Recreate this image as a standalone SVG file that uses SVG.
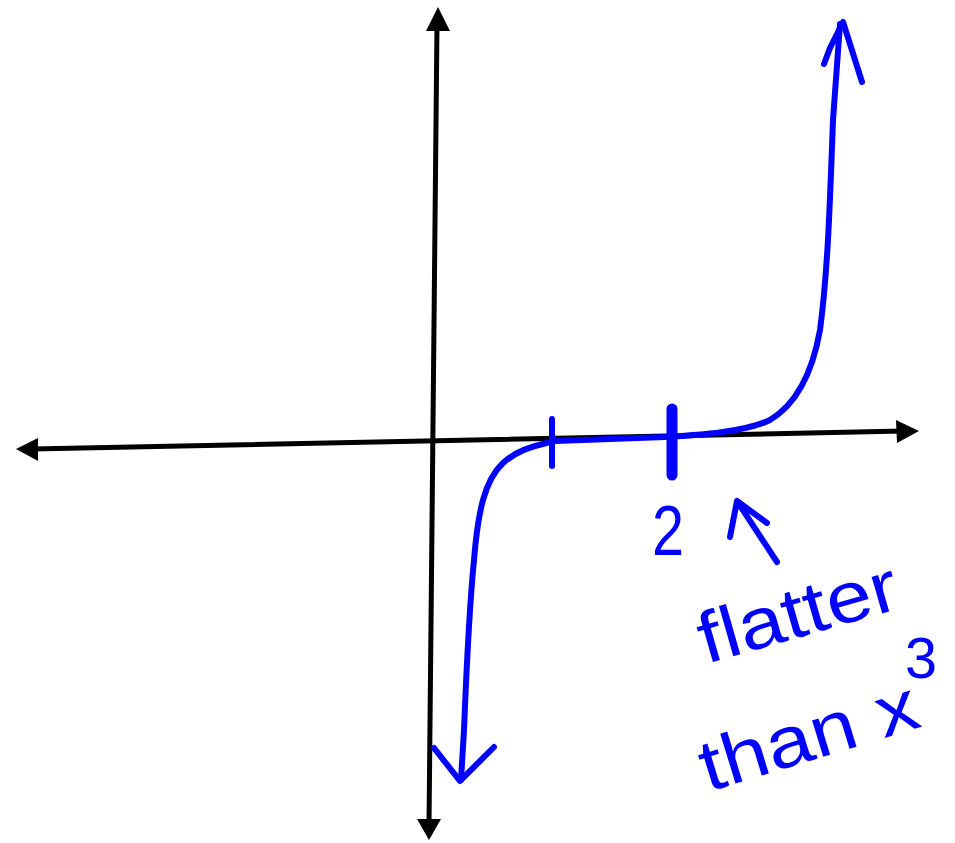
<svg xmlns="http://www.w3.org/2000/svg" width="955" height="843" viewBox="0 0 955 843">
<style>
.ax{stroke:#000;stroke-width:5;fill:none;stroke-linecap:round}
.ah{fill:#000}
.bl{stroke:#0000ff;stroke-width:6;fill:none;stroke-linecap:round;stroke-linejoin:round}
.tx{fill:#0000ff;font-family:"Liberation Sans","DejaVu Sans",sans-serif}
</style>
<rect width="955" height="843" fill="#fff"/>
<g id="axes">
<line class="ax" x1="437" y1="24" x2="429" y2="825"/>
<polygon class="ah" points="438,7 450,31 426,31"/>
<polygon class="ah" points="429,840 417,819 441,819"/>
<line class="ax" x1="32" y1="449" x2="904" y2="431"/>
<polygon class="ah" points="16,449 38,438 38,461"/>
<polygon class="ah" points="919,431 896,420 897,443"/>
</g>
<g id="curve">
<path class="bl" d="M 461,780 L 464,730 C 466,680 470,600 474,560 C 478,510 485,480 503,463 C 515,452 528,447 555,441 L 665,437 C 700,435 745,432 770,420 C 795,405 812,375 820,330 C 828,270 830,200 833,120 L 840,24"/>
<path class="bl" d="M 434,748 L 460,781 L 494,747"/>
<path class="bl" d="M 824,64 L 830,48 L 843,22 L 862,82"/>
<line class="bl" x1="552" y1="419" x2="552" y2="466"/>
<line class="bl" x1="672" y1="409" x2="672" y2="475" style="stroke-width:11"/>
<path class="bl" d="M 777,562 L 737,501 L 730,537 M 737,501 L 767,523"/>
</g>
<g id="labels">
<text class="tx" x="652" y="555" font-size="70" textLength="32" lengthAdjust="spacingAndGlyphs">2</text>
<text class="tx" x="0" y="0" font-size="72" textLength="205" lengthAdjust="spacingAndGlyphs" transform="translate(706,664) rotate(-16)">flatter</text>
<text class="tx" x="0" y="0" font-size="72" textLength="225" lengthAdjust="spacingAndGlyphs" transform="translate(708,792) rotate(-17)">than x</text>
<text class="tx" x="905" y="678" font-size="58" textLength="32" lengthAdjust="spacingAndGlyphs">3</text>
</g>
</svg>
